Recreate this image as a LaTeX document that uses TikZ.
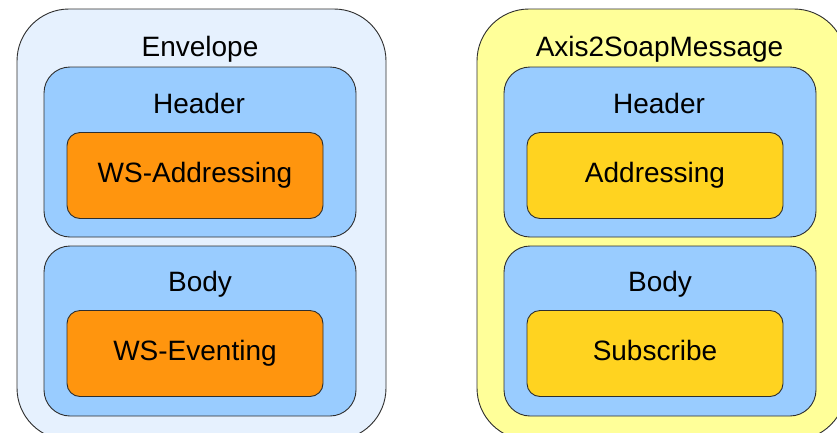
\documentclass[tikz,border=0pt]{standalone}
\usepackage{fontspec}
\setmainfont{Liberation Sans}
\definecolor{envfill}{HTML}{E6F1FE}
\definecolor{partfill}{HTML}{99CCFF}
\definecolor{wsfill}{HTML}{FF950E}
\definecolor{axisfill}{HTML}{FFFF99}
\definecolor{axpart}{HTML}{FFD320}
\definecolor{edge}{HTML}{2E2E2E}
\tikzset{
  box/.style={draw=edge, line width=0.9pt, rectangle, inner sep=0pt, outer sep=0pt},
  outerbox/.style={box, rounded corners=52pt, minimum width=369pt, minimum height=431pt},
  partbox/.style={box, rounded corners=26pt, minimum width=312pt, minimum height=170pt, fill=partfill},
  itembox/.style={box, rounded corners=13pt, minimum width=256pt, minimum height=86pt,
    font=\fontsize{28}{34}\selectfont, text height=20.4pt, text depth=5.9pt},
  lbl/.style={anchor=base, inner sep=0pt, font=\fontsize{28}{34}\selectfont}
}
\begin{document}
\begin{tikzpicture}[x=1pt,y=-1pt]
  \useasboundingbox (0,0) rectangle (837,432);
  \clip (0,0) rectangle (837,432);
  \fill[white] (0,0) rectangle (837,432);

  % SOAP envelope
  \node[outerbox, fill=envfill] (env) at (201.5,224.5) {};
  \node[lbl] (envlbl) at (200,56) {Envelope};
  \node[partbox] (hdr) at (200,152) {};
  \node[lbl] (hdrlbl) at (199,113) {Header};
  \node[itembox, fill=wsfill] (wsa) at (195,175.5) {WS-Addressing};
  \node[partbox] (body) at (200,331) {};
  \node[lbl] (bodylbl) at (200,291) {Body};
  \node[itembox, fill=wsfill] (wse) at (195,353.5) {WS-Eventing};

  % Axis2 message
  \node[outerbox, fill=axisfill] (axis) at (661.5,224.5) {};
  \node[lbl] (axislbl) at (659.5,56) {Axis2SoapMessage};
  \node[partbox] (ahdr) at (660,152) {};
  \node[lbl] (ahdrlbl) at (659,113) {Header};
  \node[itembox, fill=axpart] (aaddr) at (655,175.5) {Addressing};
  \node[partbox] (abody) at (660,331) {};
  \node[lbl] (abodylbl) at (660,291) {Body};
  \node[itembox, fill=axpart] (asub) at (655,353.5) {Subscribe};
\end{tikzpicture}
\end{document}
